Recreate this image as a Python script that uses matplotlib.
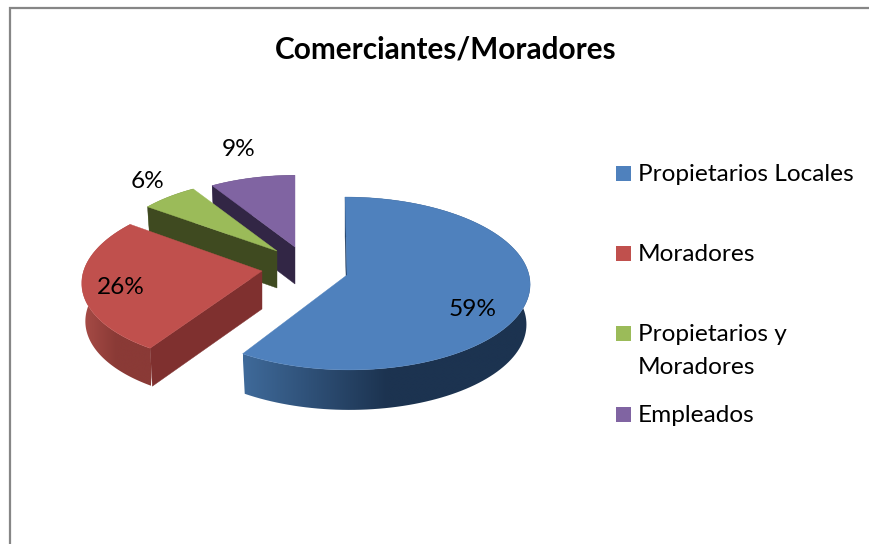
import matplotlib
matplotlib.use("Agg")
import matplotlib.pyplot as plt
from matplotlib.colors import LinearSegmentedColormap
from matplotlib.patches import Polygon, Rectangle
import numpy as np

categories = ["Propietarios Locales", "Moradores", "Propietarios y\nMoradores", "Empleados"]
values = [59, 26, 6, 9]

top_colors = ["#4f81bd", "#c0504d", "#9bbb59", "#8064a2"]
face_colors = ["#1f3a5c", "#7f302f", "#3f4a20", "#322645"]
wall_left = ["#3f6a9a", "#a84c47", "#7a9445", "#5f4a7c"]
wall_right = ["#1c3350", "#8a3a36", "#4f6028", "#3d2f50"]

# pixel placement of each exploded wedge
apex_x = [347, 262, 277, 295]
apex_y = [275, 271, 251, 247]
scale = [1.0, 0.98, 0.93, 0.92]
shear = [0.025, -0.1, 0.0, 0.0]
depth = [40, 38, 37, 37]
label_pos = [(473, 309), (121, 287), (148, 181), (239, 150)]
legend_y = [174, 254, 334, 415]

RX = 182
RY = 85.6
PERSP = 0.098
TAPER = 0.98  # bottom rim of the wall is a little narrower than the top

plt.rcParams["font.family"] = ["Lato", "DejaVu Sans"]

fig = plt.figure(figsize=(8.7, 5.44), dpi=100)
ax = fig.add_axes([0, 0, 1, 1])
ax.axis("off")


def project(theta, i):
    # theta runs clockwise from the back of the pie
    s = -np.cos(theta)
    f = scale[i] / (1 - PERSP * s)
    y = RY * s * f
    x = RX * np.sin(theta) * f + shear[i] * y
    return apex_x[i] + x, apex_y[i] + y


# chart area border, only left and top show
ax.plot([10, 10, 870], [544, 8, 8], color="#868686", lw=1.6, solid_joinstyle="miter")

starts = np.cumsum([0] + values[:-1]) / sum(values) * 2 * np.pi
ends = np.cumsum(values) / sum(values) * 2 * np.pi

# back wedges first so the front ones sit on top
for i in [3, 2, 1, 0]:
    t = np.linspace(starts[i], ends[i], 120)
    x, y = project(t, i)
    x_low = apex_x[i] + (x - apex_x[i]) * TAPER

    # outer wall, shaded along x, dark part reached a bit past the middle
    wall = Polygon(np.c_[np.r_[x, x_low[::-1]], np.r_[y, y[::-1] + depth[i]]],
                   closed=True, facecolor="none", edgecolor="none")
    ax.add_patch(wall)
    cmap = LinearSegmentedColormap.from_list("wall", [wall_left[i], wall_right[i], wall_right[i]])
    grad = ax.imshow(np.linspace(0, 1, 256)[None, :], cmap=cmap, aspect="auto",
                     extent=(x.min(), x.max(), y.max() + depth[i], y.min()),
                     interpolation="bilinear", zorder=wall.get_zorder())
    grad.set_clip_path(wall)

    # cut face at the start of the wedge
    ax.add_patch(Polygon([(x[0], y[0]), (apex_x[i], apex_y[i]),
                          (apex_x[i], apex_y[i] + depth[i]), (x_low[0], y[0] + depth[i])],
                         closed=True, color=face_colors[i], lw=0.3))

    # top surface
    ax.add_patch(Polygon(np.c_[np.r_[apex_x[i], x], np.r_[apex_y[i], y]],
                         closed=True, color=top_colors[i], lw=0.3))

for i, (lx, ly) in enumerate(label_pos):
    ax.text(lx, ly, f"{values[i]}%", ha="center", va="center", fontsize=17.6, color="black")

ax.text(446, 50, "Comerciantes/Moradores", ha="center", va="center",
        fontsize=21.4, fontweight="bold", color="black")

for i, name in enumerate(categories):
    ax.add_patch(Rectangle((616, legend_y[i] - 8), 15, 15, color=top_colors[i], lw=0))
    first_line = legend_y[i] + 0.5
    ax.text(638, first_line, name.split("\n")[0], ha="left", va="center",
            fontsize=17.6, color="black")
    if "\n" in name:
        ax.text(638, first_line + 33, name.split("\n")[1], ha="left", va="center",
                fontsize=17.6, color="black")

ax.set_xlim(0, 870)
ax.set_ylim(544, 0)

fig.savefig("out.png", dpi=100)
